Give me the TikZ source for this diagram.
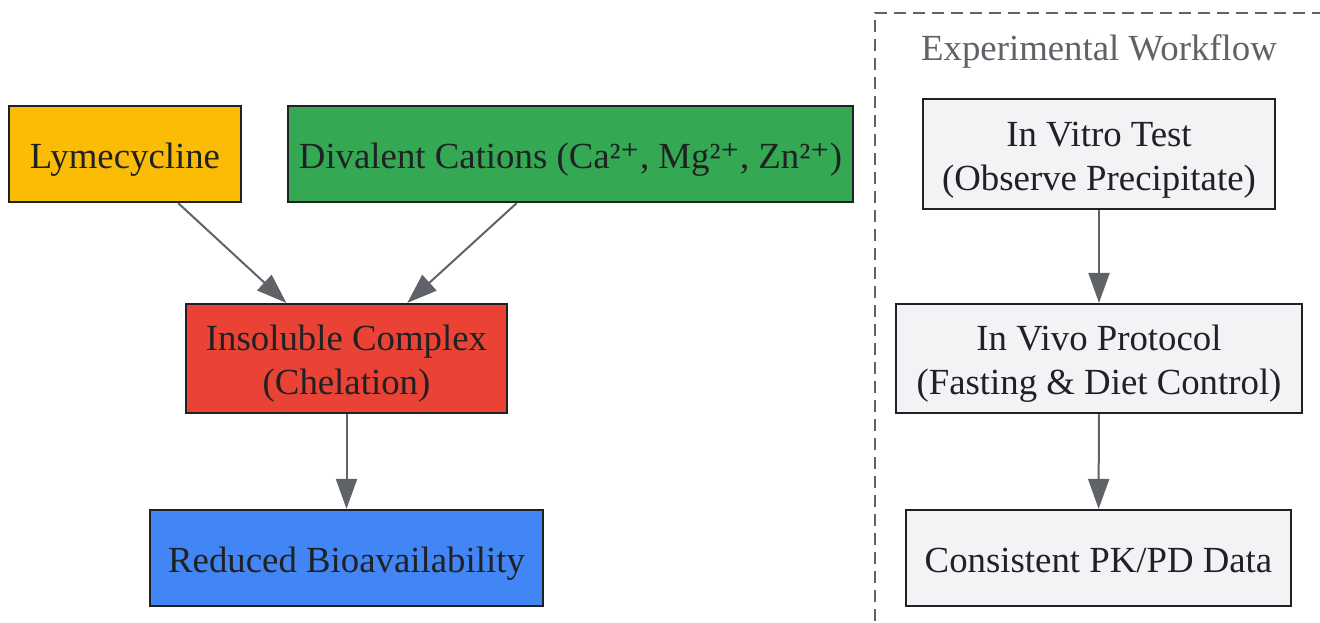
\documentclass[tikz,border=0pt]{standalone}
\usepackage{fontspec}
\setmainfont{Liberation Serif}
\newfontfamily\plusfont{DejaVu Serif}[Scale=1.0]
\usetikzlibrary{arrows.meta}
\definecolor{txt}{HTML}{202124}
\definecolor{edge}{HTML}{5F6368}
\definecolor{cyel}{HTML}{FBBC05}
\definecolor{cgrn}{HTML}{34A853}
\definecolor{cred}{HTML}{EA4335}
\definecolor{cblu}{HTML}{4285F4}
\definecolor{cgry}{HTML}{F1F3F4}
\newcommand\lst{\rule[-8pt]{0pt}{44pt}}
\newcommand\plusup{{\plusfont ⁺}}
\tikzset{
  box/.style={draw=txt, line width=2.2pt, text=txt, align=center, inner sep=0pt,
    font=\fontsize{36.8}{44}\selectfont},
  conn/.style={draw=edge, line width=2pt, -{Triangle[length=30pt,width=21pt]}},
}
\begin{document}
\begin{tikzpicture}[x=1pt,y=-1pt]
\useasboundingbox (0,0) rectangle (1320,623);
\fill[white] (0,0) rectangle (1320,623);
% cluster
\draw[edge, line width=2pt, dash pattern=on 12pt off 7pt] (875,640) -- (875,13) -- (1340,13);
\node[text=edge, inner sep=0pt, font=\fontsize{36.8}{44}\selectfont] (title) at (1099,47) {\lst Experimental Workflow};
% left nodes
\node[box, fill=cyel, minimum width=232pt, minimum height=96pt] (lyme) at (125,154) {\lst Lymecycline};
\node[box, fill=cgrn, minimum width=565pt, minimum height=96pt] (cat) at (570.5,154) {\lst Divalent Cations (Ca²\plusup, Mg²\plusup, Zn²\plusup)};
\node[box, fill=cred, minimum width=321pt, minimum height=109pt] (cplx) at (346.5,358.5) {\lst Insoluble Complex\\\lst (Chelation)};
\node[box, fill=cblu, minimum width=393pt, minimum height=96pt] (bio) at (346.5,558) {\lst Reduced Bioavailability};
% right nodes
\node[box, fill=cgry, minimum width=352pt, minimum height=110pt] (vitro) at (1099,154) {\lst In Vitro Test\\\lst (Observe Precipitate)};
\node[box, fill=cgry, minimum width=406pt, minimum height=109pt] (vivo) at (1099,358.5) {\lst In Vivo Protocol\\\lst (Fasting \& Diet Control)};
\node[box, fill=cgry, minimum width=385pt, minimum height=96pt] (pk) at (1098.5,558) {\lst Consistent PK/PD Data};
% connectors
\draw[conn] (lyme) -- (cplx);
\draw[conn] (cat) -- (cplx);
\draw[conn] (cplx) -- (bio);
\draw[conn] (vitro) -- (vivo);
\draw[conn] (vivo) -- (pk);
\end{tikzpicture}
\end{document}
